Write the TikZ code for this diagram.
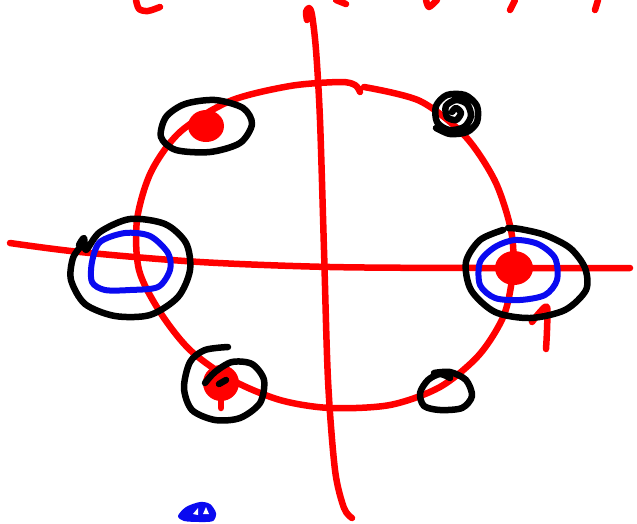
\documentclass[tikz,border=0pt]{standalone}
\begin{document}
\begin{tikzpicture}[x=1pt,y=-1pt,line cap=round,line join=round]
\definecolor{penred}{RGB}{255,0,0}
\definecolor{penblue}{RGB}{10,10,240}
\tikzset{
  redpen/.style={draw=penred,line width=6.5pt},
  blackpen/.style={draw=black,line width=6.5pt},
  bluepen/.style={draw=penblue,line width=6pt},
  reddot/.style={fill=penred,draw=none}
}
\useasboundingbox (0,0) rectangle (637,523);
% top partial strokes
\draw[redpen] plot[smooth] coordinates {(136,0) (139,9) (148,11) (160,7)};
\draw[redpen] (336,0) -- (346,4);
\draw[redpen] plot[smooth] coordinates {(426,0) (429,7) (437,0)};
\draw[redpen] (515,0) -- (510,10);
\draw[redpen] (598,0) -- (595,10);
% axes
\draw[redpen] plot[smooth] coordinates {(10,243) (80,252) (200,262) (330,267) (480,268) (630,268)};
\draw[redpen] plot[smooth] coordinates {(307,20) (306,12) (309,8) (312,15) (316,50) (320,120) (324,250) (328,380) (335,470) (344,508) (352,518)};
% unit circle
\draw[redpen] plot[smooth] coordinates {(364,87) (420,101) (465,136) (495,181) (511,230) (513,270) (504,315) (479,355) (440,387) (390,405) (330,408) (280,400) (232,380) (190,350) (160,312) (139,270) (137,220) (151,172) (180,132) (230,101) (290,86) (340,82) (355,85) (360,92)};
% mark "1" at right
\draw[redpen] plot[smooth] coordinates {(532,322) (540,312) (547,307) (547,330) (546,349)};
% red dots
\fill[reddot] (206,126) ellipse (18 and 16);
\fill[reddot] (514,268) ellipse (19 and 17);
\fill[reddot] (221,383) circle (18);
\draw[redpen] (221,395) -- (221,408);
% top-left ellipse
\draw[blackpen] plot[smooth cycle] coordinates {(185,104) (215,100) (243,108) (252,124) (240,143) (210,152) (176,150) (161,137) (166,117)};
% top-right spiral
\draw[blackpen] plot[smooth] coordinates {(452,112) (456,108) (461,113) (456,120) (447,117) (446,106) (456,100) (467,104) (471,116) (464,127) (449,130) (437,122) (436,106) (447,95) (465,95) (477,106) (477,122) (467,132) (450,134) (436,128)};
% left: black and blue
\draw[blackpen] plot[smooth] coordinates {(79,245) (84,238) (86,250) (100,232) (130,219) (165,224) (186,243) (190,270) (178,297) (150,315) (115,316) (85,304) (71,280) (73,258) (82,245)};
\draw[bluepen] plot[smooth cycle] coordinates {(100,242) (125,233) (150,236) (168,253) (170,270) (158,287) (130,290) (105,290) (92,282) (92,262)};
% right: black and blue
\draw[blackpen] plot[smooth] coordinates {(503,230) (480,240) (466,262) (471,290) (495,312) (530,318) (565,310) (586,290) (585,268) (570,248) (545,235) (520,229) (508,228)};
\draw[bluepen] plot[smooth cycle] coordinates {(515,240) (538,244) (555,258) (557,280) (545,295) (520,300) (495,298) (480,285) (480,262) (495,247)};
% bottom-left circle
\draw[blackpen] plot[smooth] coordinates {(205,383) (215,372) (232,362) (252,364) (264,380) (260,403) (240,418) (215,420) (192,410) (184,388) (190,362) (205,350) (228,347)};
\draw[blackpen] (219,384) -- (226,380);
% bottom-right small loop
\draw[blackpen] plot[smooth] coordinates {(434,373) (450,372) (466,380) (472,396) (462,408) (440,410) (424,406) (420,393) (428,380) (440,374) (450,378)};
% blue scribble
\fill[penblue] plot[smooth cycle] coordinates {(178,516) (186,507) (200,502) (210,504) (216,513) (213,521) (200,522) (184,521)};
\fill[white] (193,514) -- (198,508) -- (198,515) -- cycle;
\fill[white] (203,514) -- (206,507) -- (209,514) -- cycle;
\end{tikzpicture}
\end{document}
